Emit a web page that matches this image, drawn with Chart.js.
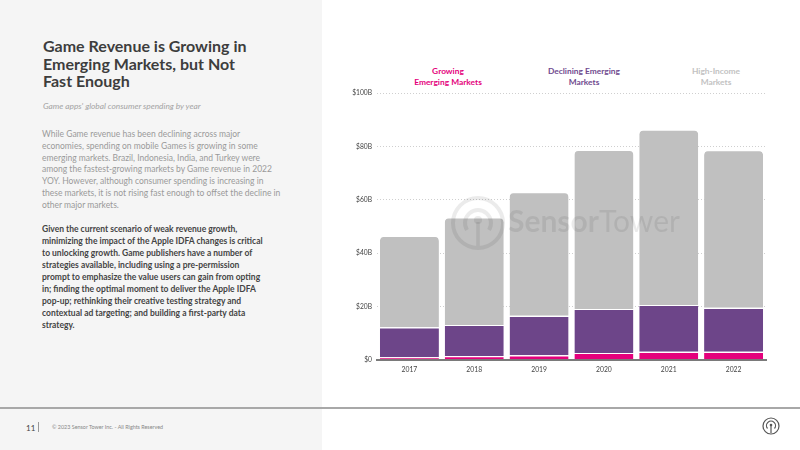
<!DOCTYPE html>
<html>
<head>
<meta charset="utf-8">
<script src="https://cdn.jsdelivr.net/npm/chart.js@4.4.1/dist/chart.umd.min.js"></script>
<style>
    html, body { margin: 0; padding: 0; }
    body {
        width: 800px; height: 450px; position: relative; overflow: hidden;
        background: #fff; font-family: Lato, "Open Sans", sans-serif;
    }
    .side {
        position: absolute; left: 0; top: 0; width: 322px; height: 450px;
        background: #f5f5f5;
    }
    .title {
        position: absolute; left: 43px; top: 37px; margin: 0;
        font-size: 16px; line-height: 17.7px; font-weight: 700; color: #3d3d3d;
    }
    .subtitle {
        position: absolute; left: 43px; top: 101px;
        font-size: 8.3px; font-style: italic; font-weight: 400; color: #a3a3a3;
    }
    .body1, .body2 {
        position: absolute; left: 42px; font-size: 8.5px; line-height: 11.75px;
    }
    .body1 { top: 129px; color: #9a9a9a; }
    .body2 { top: 223px; color: #444; font-weight: 700; line-height: 12px; }
    .footline {
        position: absolute; left: 0; top: 407px; width: 800px; height: 2px; background: #a8a8a8;
    }
    .pageno { position: absolute; left: 26px; top: 423px; font-size: 8px; color: #444; }
    .pipe { position: absolute; left: 38px; top: 422px; width: 1px; height: 10px; background: #999; }
    .copy { position: absolute; left: 52px; top: 424px; font-size: 5.4px; color: #888; }
    .footicon { position: absolute; left: 762px; top: 417px; }
    .legend {
        position: absolute; top: 66px; width: 120px; text-align: center;
        font-size: 8.4px; line-height: 11px; font-weight: 700;
    }
    #chartWrap { position: absolute; left: 330px; top: 84px; width: 450px; height: 296px; }
    .watermark {
        position: absolute; left: 451px; top: 196px; pointer-events: none;
        color: rgba(0,0,0,0.08); font-size: 30px; white-space: nowrap;
    }
    .watermark svg { position: absolute; left: 0; top: 0; }
    .watermark span { position: absolute; left: 57px; top: 6px; font-family: Lato, sans-serif; }
</style>
</head>
<body>
<div class="side"></div>
<h1 class="title">Game Revenue is Growing in<br>Emerging Markets, but Not<br>Fast Enough</h1>
<div class="subtitle">Game apps' global consumer spending by year</div>
<div class="body1">While Game revenue has been declining across major<br>economies, spending on mobile Games is growing in some<br>emerging markets. Brazil, Indonesia, India, and Turkey were<br>among the fastest-growing markets by Game revenue in 2022<br>YOY. However, although consumer spending is increasing in<br>these markets, it is not rising fast enough to offset the decline in<br>other major markets.</div>
<div class="body2">Given the current scenario of weak revenue growth,<br>minimizing the impact of the Apple IDFA changes is critical<br>to unlocking growth. Game publishers have a number of<br>strategies available, including using a pre-permission<br>prompt to emphasize the value users can gain from opting<br>in; finding the optimal moment to deliver the Apple IDFA<br>pop-up; rethinking their creative testing strategy and<br>contextual ad targeting; and building a first-party data<br>strategy.</div>

<div class="legend" style="left:388px;color:#e4007c;">Growing<br>Emerging Markets</div>
<div class="legend" style="left:524px;color:#6f4a8e;">Declining Emerging<br>Markets</div>
<div class="legend" style="left:656px;color:#c2c2c2;">High-Income<br>Markets</div>

<div id="chartWrap"><canvas id="revenueChart" width="450" height="296"></canvas></div>

<div class="watermark">
    <svg width="54" height="54" viewBox="0 0 54 54" fill="none" stroke="rgba(0,0,0,0.08)">
        <circle cx="27" cy="27" r="25" stroke-width="4"/>
        <path d="M16 34 A13 13 0 1 1 38 34" stroke-width="4"/>
        <circle cx="27" cy="24" r="4" fill="rgba(0,0,0,0.08)" stroke="none"/>
        <line x1="27" y1="26" x2="27" y2="50" stroke-width="3.5"/>
    </svg>
    <span><b>Sensor</b>Tower</span>
</div>

<div class="footline"></div>
<div class="pageno">11</div>
<div class="pipe"></div>
<div class="copy">© 2023 Sensor Tower Inc. - All Rights Reserved</div>
<svg class="footicon" width="18" height="18" viewBox="0 0 18 18" fill="none" stroke="#555">
    <circle cx="9" cy="9" r="8" stroke-width="1.2"/>
    <path d="M5.5 11.5 A4.5 4.5 0 1 1 12.5 11.5" stroke-width="1.2"/>
    <line x1="9" y1="8" x2="9" y2="16" stroke-width="1.2"/>
    <circle cx="9" cy="8" r="1.3" fill="#555" stroke="none"/>
</svg>

<script>
// chart data (USD billions)
const years = ['2017', '2018', '2019', '2020', '2021', '2022'];
const growingEmerging = [1.0, 1.4, 1.7, 2.6, 3.0, 3.0];
const decliningEmerging = [11.2, 11.7, 14.8, 16.5, 17.6, 16.5];
const highIncome = [34.3, 40.3, 46.4, 59.6, 65.7, 59.1];
const yTicks = [0, 20, 40, 60, 80, 100];

const PINK = '#e4007c';
const PURPLE = '#6d4589';
const GREY = '#c0c0c0';

document.addEventListener('DOMContentLoaded', function() {
    initRevenueChart();
});

function barSet(label, data, color, radius) {
    return {
        label: label,
        data: data,
        backgroundColor: color,
        borderColor: '#ffffff',
        borderWidth: { top: 1.2 },
        borderRadius: radius ? { topLeft: radius, topRight: radius } : 0,
        borderSkipped: false,
        barPercentage: 0.91,
        categoryPercentage: 1
    };
}

function initRevenueChart() {
    const ctx = document.getElementById('revenueChart').getContext('2d');
    new Chart(ctx, {
        type: 'bar',
        data: {
            labels: years,
            datasets: [
                barSet('Growing Emerging Markets', growingEmerging, PINK),
                barSet('Declining Emerging Markets', decliningEmerging, PURPLE),
                barSet('High-Income Markets', highIncome, GREY, 5)
            ]
        },
        options: {
            responsive: false,
            animation: false,
            layout: { padding: { top: 7, right: 14, bottom: 0, left: 0 } },
            plugins: {
                legend: { display: false },
                tooltip: { enabled: false }
            },
            scales: {
                x: {
                    stacked: true,
                    grid: { display: false, drawTicks: false },
                    border: { display: true, color: '#7a7a7a', width: 2 },
                    ticks: {
                        color: '#444',
                        padding: 6,
                        font: { family: 'Lato', size: 6.8 }
                    }
                },
                y: {
                    stacked: true,
                    min: 0,
                    max: 100,
                    afterBuildTicks: function(axis) {
                        axis.ticks = yTicks.map(v => ({ value: v }));
                    },
                    afterFit: function(axis) {
                        axis.width = 47;
                    },
                    grid: {
                        color: function(c) { return c.tick && c.tick.value === 0 ? 'rgba(0,0,0,0)' : '#cfcfcf'; },
                        drawTicks: false,
                        lineWidth: 1
                    },
                    border: { display: false, dash: [1, 2] },
                    ticks: {
                        color: '#444',
                        padding: 5,
                        font: { family: 'Lato', size: 6.7 },
                        callback: function(v) { return v === 0 ? '$0' : '$' + v + 'B'; }
                    }
                }
            }
        }
    });
}
</script>
</body>
</html>
